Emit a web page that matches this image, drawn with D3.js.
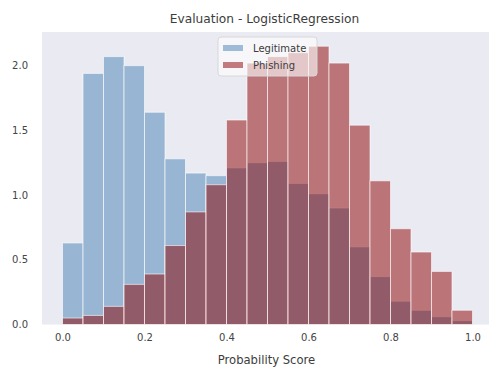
<!DOCTYPE html>
<html>
<head>
<meta charset="utf-8">
<script src="https://cdn.jsdelivr.net/npm/d3@7"></script>
<style>
  html, body { margin: 0; padding: 0; background: #ffffff; }
  svg { display: block; font-family: "DejaVu Sans", sans-serif; }
</style>
</head>
<body>
<svg id="chart" width="489" height="368"></svg>
<script>
// Histogram bin edges (20 bins over the probability range)
const binEdges = [0.00, 0.05, 0.10, 0.15, 0.20, 0.25, 0.30, 0.35, 0.40, 0.45, 0.50,
                  0.55, 0.60, 0.65, 0.70, 0.75, 0.80, 0.85, 0.90, 0.95, 1.00];

// Density per bin for each class
const legitimate = [0.63, 1.94, 2.07, 2.00, 1.64, 1.28, 1.17, 1.15, 1.21, 1.25,
                    1.26, 1.09, 1.01, 0.90, 0.60, 0.37, 0.18, 0.11, 0.06, 0.03];
const phishing   = [0.05, 0.07, 0.14, 0.31, 0.39, 0.61, 0.87, 1.08, 1.58, 2.02,
                    2.07, 2.10, 2.15, 2.02, 1.54, 1.11, 0.74, 0.56, 0.41, 0.11];

const seriesNames = ["Legitimate", "Phishing"];
const xTicks = [0.0, 0.2, 0.4, 0.6, 0.8, 1.0];
const yTicks = [0.0, 0.5, 1.0, 1.5, 2.0];

const title = "Evaluation - LogisticRegression";
const xLabel = "Probability Score";

const svg = d3.select("#chart");

const plot = { left: 42, right: 493, top: 32, bottom: 324.5 };

const x = d3.scaleLinear().domain([-0.05, 1.05]).range([plot.left, plot.right]);
const y = d3.scaleLinear().domain([0, 2.26]).range([plot.bottom, plot.top]);

// Axes background
svg.append("rect")
  .attr("x", plot.left).attr("y", plot.top)
  .attr("width", plot.right - plot.left)
  .attr("height", plot.bottom - plot.top)
  .attr("fill", "#eaeaf2");

const colors = ["steelblue", "darkred"];
const series = [legitimate, phishing];

series.forEach((vals, si) => {
  const bins = vals.map((v, i) => ({ x0: binEdges[i], x1: binEdges[i + 1], v }));
  svg.append("g")
    .selectAll("rect")
    .data(bins)
    .join("rect")
    .attr("x", d => x(d.x0))
    .attr("y", d => y(d.v))
    .attr("width", d => x(d.x1) - x(d.x0))
    .attr("height", d => y(0) - y(d.v))
    .attr("fill", colors[si])
    .attr("fill-opacity", 0.5)
    .attr("stroke", "#ffffff")
    .attr("stroke-opacity", 0.6)
    .attr("stroke-width", 1);
});

// Axes (no tick marks, no domain line)
const xAxis = d3.axisBottom(x).tickValues(xTicks).tickFormat(d3.format(".1f")).tickSize(0).tickPadding(9);
const yAxis = d3.axisLeft(y).tickValues(yTicks).tickFormat(d3.format(".1f")).tickSize(0).tickPadding(14);

const gx = svg.append("g").attr("transform", `translate(0,${plot.bottom})`).call(xAxis);
const gy = svg.append("g").attr("transform", `translate(${plot.left},0)`).call(yAxis);
[gx, gy].forEach(g => {
  g.select(".domain").remove();
  g.selectAll("text").attr("fill", "#444444").attr("font-size", 10)
    .attr("font-family", "DejaVu Sans, sans-serif");
});

// Axis label and title
svg.append("text")
  .attr("x", (x(0) + x(1)) / 2 - 1).attr("y", 364)
  .attr("text-anchor", "middle")
  .attr("font-size", 11.6).attr("fill", "#3c3c3c")
  .text(xLabel);

svg.append("text")
  .attr("x", 264.5).attr("y", 23)
  .attr("text-anchor", "middle")
  .attr("font-size", 12.2).attr("fill", "#3c3c3c")
  .text(title);

// Legend
const legend = svg.append("g").attr("transform", "translate(218,37)");
legend.append("rect")
  .attr("width", 99).attr("height", 39)
  .attr("rx", 3)
  .attr("fill", "#ffffff").attr("fill-opacity", 0.6)
  .attr("stroke", "#d8d8d8").attr("stroke-width", 1);

seriesNames.forEach((name, i) => {
  const row = legend.append("g").attr("transform", `translate(0,${8 + i * 17})`);
  row.append("rect")
    .attr("x", 5).attr("y", 0).attr("width", 20).attr("height", 6)
    .attr("fill", colors[i]).attr("fill-opacity", 0.5);
  row.append("text")
    .attr("x", 35).attr("y", 7)
    .attr("font-size", 10).attr("fill", "#3c3c3c")
    .text(name);
});
</script>
</body>
</html>
